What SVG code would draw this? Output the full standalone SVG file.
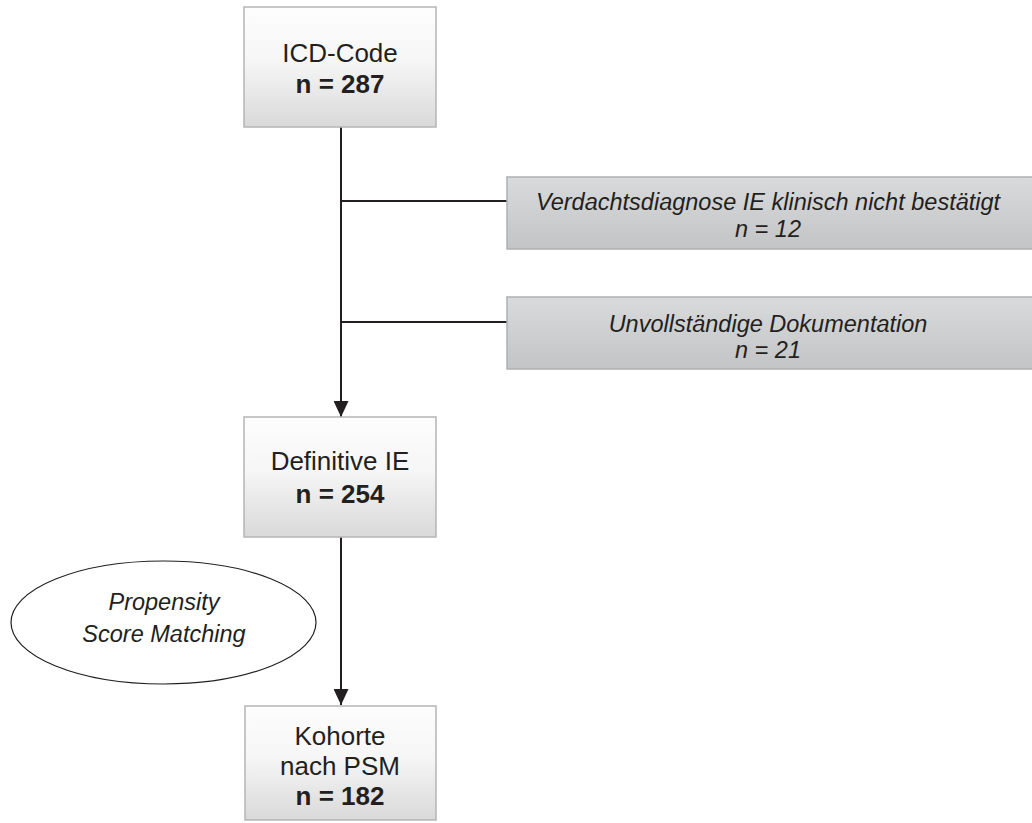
<svg xmlns="http://www.w3.org/2000/svg" width="1032" height="823" viewBox="0 0 1032 823">
  <defs>
    <linearGradient id="gradMain" x1="0" y1="0" x2="0" y2="1">
      <stop offset="0" stop-color="#fdfdfd"/>
      <stop offset="0.45" stop-color="#f6f6f6"/>
      <stop offset="1" stop-color="#d9d9d9"/>
    </linearGradient>
    <linearGradient id="gradSide" x1="0" y1="0" x2="0" y2="1">
      <stop offset="0" stop-color="#d9dadb"/>
      <stop offset="1" stop-color="#c3c4c6"/>
    </linearGradient>
    <marker id="arrow" viewBox="0 0 16 15" refX="16" refY="7.5" markerWidth="16" markerHeight="15" markerUnits="userSpaceOnUse" orient="auto">
      <path d="M0,0 L16,7.5 L0,15 Z" fill="#231f20"/>
    </marker>
  </defs>
  <style>
    .box { fill: url(#gradMain); stroke: #b5b5b5; stroke-width: 1.5; }
    .side { fill: url(#gradSide); stroke: #b0b0b0; stroke-width: 1.5; }
    .t { font-family: "Liberation Sans", Arial, sans-serif; fill: #231f20; text-anchor: middle; }
    .main { font-size: 26px; }
    .bold { font-weight: bold; }
    .ital { font-size: 23.5px; font-style: italic; }
    .line { stroke: #231f20; stroke-width: 2; fill: none; }
  </style>
  <rect width="1032" height="823" fill="#ffffff"/>

  <g id="connectors">
    <line class="line" x1="341" y1="127" x2="341" y2="417" marker-end="url(#arrow)"/>
    <line class="line" x1="341" y1="201" x2="507" y2="201"/>
    <line class="line" x1="341" y1="322" x2="507" y2="322"/>
    <line class="line" x1="341" y1="537" x2="341" y2="705" marker-end="url(#arrow)"/>
  </g>

  <g id="node-icd">
    <rect class="box" x="244" y="7" width="192" height="120"/>
    <text class="t main" x="340" y="62">ICD-Code</text>
    <text class="t main bold" x="340" y="93">n = 287</text>
  </g>

  <g id="node-verdacht">
    <rect class="side" x="507" y="177" width="530" height="72"/>
    <text class="t ital" x="768" y="210">Verdachtsdiagnose IE klinisch nicht bestätigt</text>
    <text class="t ital" x="768" y="237">n = 12</text>
  </g>

  <g id="node-unvollstaendig">
    <rect class="side" x="507" y="297" width="530" height="72"/>
    <text class="t ital" x="768" y="332">Unvollständige Dokumentation</text>
    <text class="t ital" x="768" y="358">n = 21</text>
  </g>

  <g id="node-definitiv">
    <rect class="box" x="244" y="417" width="192" height="120"/>
    <text class="t main" x="340" y="470">Definitive IE</text>
    <text class="t main bold" x="340" y="503">n = 254</text>
  </g>

  <g id="node-psm">
    <ellipse cx="163.5" cy="622.5" rx="152.5" ry="61.5" fill="#ffffff" stroke="#231f20" stroke-width="1.2"/>
    <text class="t ital" x="164" y="610" font-size="24">Propensity</text>
    <text class="t ital" x="164" y="642" font-size="24">Score Matching</text>
  </g>

  <g id="node-kohorte">
    <rect class="box" x="245" y="706" width="191" height="114"/>
    <text class="t main" x="340" y="745">Kohorte</text>
    <text class="t main" x="340" y="775">nach PSM</text>
    <text class="t main bold" x="340" y="805">n = 182</text>
  </g>
</svg>
